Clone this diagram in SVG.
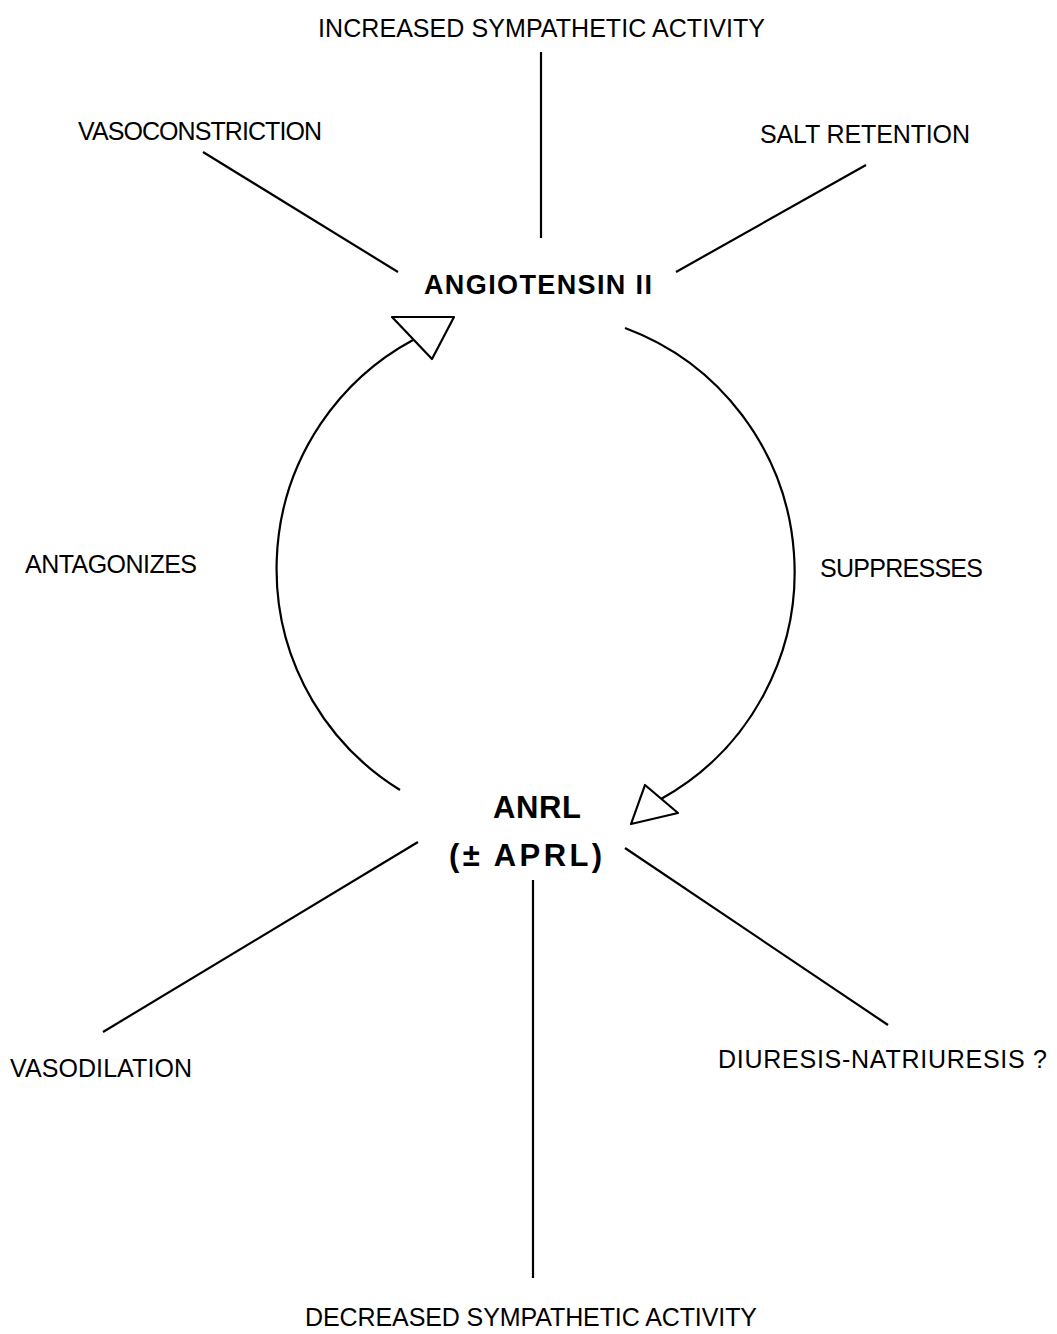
<svg xmlns="http://www.w3.org/2000/svg" width="1057" height="1334" viewBox="0 0 1057 1334">
<style>
.t{font-family:"Liberation Sans",Arial,sans-serif;font-size:25px;fill:#000}
.b{font-family:"Liberation Sans",Arial,sans-serif;font-size:27px;font-weight:bold;fill:#000}
.b2{font-family:"Liberation Sans",Arial,sans-serif;font-size:31px;font-weight:bold;fill:#000}
.l{stroke:#000;stroke-width:2.2;fill:none}
.h{stroke:#000;stroke-width:2.2;fill:#fff;stroke-linejoin:round}
</style>
<rect width="1057" height="1334" fill="#fff"/>
<g id="connectors">
<line class="l" x1="541" y1="52" x2="541" y2="238"/>
<line class="l" x1="203" y1="152" x2="398" y2="272"/>
<line class="l" x1="866" y1="165" x2="676" y2="272"/>
<path class="l" d="M400,790 A260,260 0 0 1 413,340"/>
<polygon class="h" points="454,317 392,317 432,359"/>
<path class="l" d="M625,328 A260,260 0 0 1 661,799"/>
<polygon class="h" points="631,824 645,785 678,813"/>
<line class="l" x1="418" y1="842" x2="103" y2="1032"/>
<line class="l" x1="533" y1="880" x2="533" y2="1278"/>
<line class="l" x1="625" y1="848" x2="888" y2="1025"/>
</g>
<g id="increased"><text class="t" x="318" y="37" textLength="447">INCREASED SYMPATHETIC ACTIVITY</text></g>
<g id="vasoconstriction"><text class="t" x="78" y="140" textLength="244">VASOCONSTRICTION</text></g>
<g id="salt"><text class="t" x="760" y="143" textLength="210">SALT RETENTION</text></g>
<g id="angiotensin"><text class="b" x="424" y="294" textLength="228">ANGIOTENSIN II</text></g>
<g id="antagonizes"><text class="t" x="25" y="573" textLength="172">ANTAGONIZES</text></g>
<g id="suppresses"><text class="t" x="820" y="577" textLength="163">SUPPRESSES</text></g>
<g id="anrl"><text class="b2" x="493" y="818" textLength="88">ANRL</text>
<text class="b2" x="449" y="866" textLength="153">(± APRL)</text></g>
<g id="vasodilation"><text class="t" x="10" y="1077" textLength="182">VASODILATION</text></g>
<g id="diuresis"><text class="t" x="718" y="1068" textLength="329">DIURESIS-NATRIURESIS ?</text></g>
<g id="decreased"><text class="t" x="305" y="1326" textLength="452">DECREASED SYMPATHETIC ACTIVITY</text></g>
</svg>
